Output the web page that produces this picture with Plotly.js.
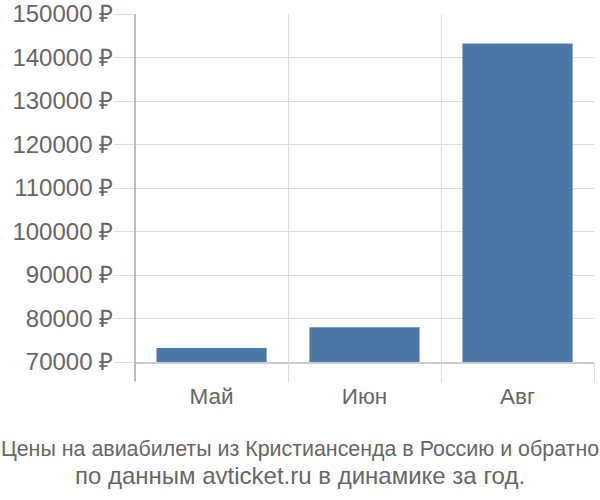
<!DOCTYPE html>
<html>
<head>
<meta charset="utf-8">
<script src="https://cdn.plot.ly/plotly-3.0.1.min.js"></script>
<style>html,body{margin:0;padding:0;background:#fff;}#chart{width:600px;height:500px;}</style>
</head>
<body>
<div id="chart"></div>
<script>
const months = ["Май", "Июн", "Авг"];
const prices = [73200, 78000, 143200];
const yTicks = [70000, 80000, 90000, 100000, 110000, 120000, 130000, 140000, 150000];
const yTickLabels = yTicks.map(v => v + " ₽");
const titleLine1 = "Цены на авиабилеты из Кристиансенда в Россию и обратно";
const titleLine2 = "по данным avticket.ru в динамике за год.";

const idx = months.map((m, i) => i);
const bounds = [-0.5].concat(idx.map(i => i + 0.5));

const data = [
  {type: "bar", x: idx, y: prices, width: 0.72, marker: {color: "#4c78a8", line: {width: 0}}, hoverinfo: "none"},
  {type: "scatter", x: bounds, y: bounds.map(() => 70000), xaxis: "x2", mode: "markers", marker: {opacity: 0}, hoverinfo: "none", showlegend: false}
];

const layout = {
  width: 600, height: 500,
  margin: {l: 135, r: 6, t: 14, b: 138},
  paper_bgcolor: "#fff", plot_bgcolor: "#fff",
  showlegend: false,
  font: {family: "Liberation Sans, Arial, sans-serif", color: "#666"},
  title: {
    text: titleLine1 + "<br><span style=\"font-size:24px\">" + titleLine2 + "</span>",
    xref: "container", yref: "container", x: 0.5, y: 0.088, xanchor: "center", yanchor: "middle",
    font: {family: "Liberation Sans, Arial, sans-serif", size: 21.4, color: "#666"}
  },
  xaxis: {
    range: [-0.5, 2.5], tickmode: "array", tickvals: idx, ticktext: months,
    showgrid: false, zeroline: false, ticks: "outside", ticklen: 13, tickcolor: "rgba(0,0,0,0)",
    showline: true, linecolor: "#ccc", linewidth: 1.5,
    tickfont: {size: 22.5, color: "#666"}, fixedrange: true
  },
  xaxis2: {
    overlaying: "x", side: "bottom", range: [-0.5, 2.5], tickmode: "array", tickvals: bounds,
    showgrid: true, gridcolor: "#ddd", gridwidth: 1, zeroline: false,
    ticks: "outside", ticklen: 19, tickcolor: "#ddd", showticklabels: false, fixedrange: true
  },
  yaxis: {
    range: [70000, 150000], tickmode: "array", tickvals: yTicks, ticktext: yTickLabels,
    showgrid: true, gridcolor: "#ddd", gridwidth: 1, zeroline: false,
    ticks: "outside", ticklen: 20, tickcolor: "#ddd", ticklabelstandoff: -4,
    tickfont: {size: 24, color: "#666"}, fixedrange: true
  },
  shapes: [
    {type: "line", xref: "paper", yref: "paper", x0: 0, x1: 0, y0: -0.055, y1: 1, line: {color: "#aaa", width: 1.5}, layer: "above"}
  ],
  bargap: 0.28
};

Plotly.newPlot("chart", data, layout, {displayModeBar: false, staticPlot: true});
</script>
</body>
</html>
